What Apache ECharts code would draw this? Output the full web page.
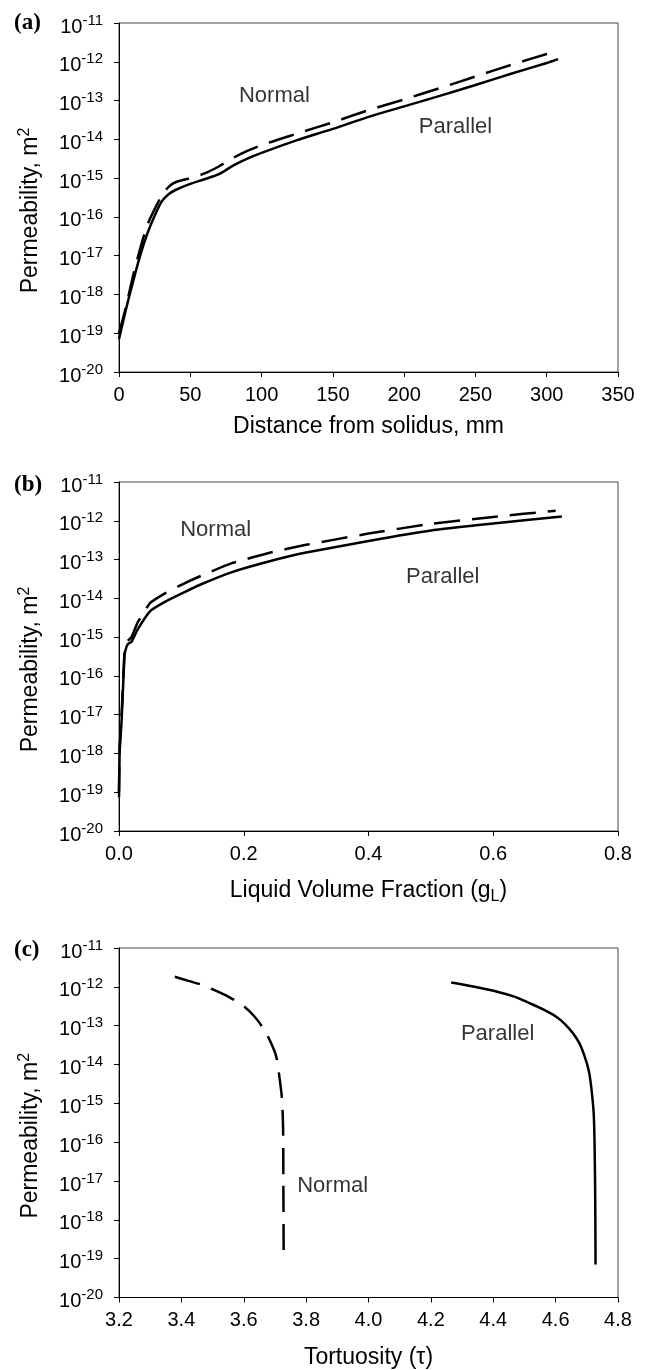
<!DOCTYPE html>
<html>
<head>
<meta charset="utf-8">
<script src="https://cdn.jsdelivr.net/npm/echarts@6/dist/echarts.min.js"></script>
<style>
html,body{margin:0;padding:0;background:#fff;}
#chart{width:648px;height:1370px;}
</style>
</head>
<body>
<div id="chart"></div>
<script>
// (a) permeability vs distance from solidus (mm), log10 of k in m2
var distA = [0, 5, 10, 15, 20, 25, 30, 35, 40, 50, 60, 70, 80, 90, 100, 125, 150, 175, 200, 225, 250, 275, 300, 308];
var logKParallelA = [-19.15, -18.37, -17.65, -16.98, -16.42, -15.97, -15.6, -15.41, -15.3, -15.15, -15.03, -14.9, -14.68, -14.5, -14.35, -14.02, -13.73, -13.42, -13.15, -12.88, -12.6, -12.31, -12.03, -11.93];
var logKNormalA = [-19.0, -18.3, -17.5, -16.8, -16.2, -15.8, -15.45, -15.22, -15.1, -15.0, -14.88, -14.7, -14.48, -14.3, -14.15, -13.85, -13.56, -13.25, -12.97, -12.68, -12.38, -12.08, -11.8, -11.72];

// (b) permeability vs liquid volume fraction
var gLParallel = [0, 0.001, 0.004, 0.0065, 0.009, 0.012, 0.015, 0.02, 0.03, 0.05, 0.075, 0.1, 0.13, 0.18, 0.24, 0.3, 0.4, 0.5, 0.6, 0.71];
var logKParallelB = [-19.13, -17.97, -17.2, -16.3, -15.45, -15.25, -15.17, -15.12, -14.8, -14.33, -14.08, -13.88, -13.65, -13.33, -13.05, -12.82, -12.52, -12.25, -12.07, -11.89];
var gLNormal = [0, 0.001, 0.004, 0.0065, 0.009, 0.012, 0.015, 0.02, 0.03, 0.05, 0.075, 0.1, 0.13, 0.18, 0.24, 0.3, 0.4, 0.5, 0.6, 0.70];
var logKNormalB = [-19.0, -17.85, -17.05, -16.15, -15.35, -15.15, -15.08, -15.0, -14.62, -14.12, -13.86, -13.65, -13.43, -13.1, -12.83, -12.62, -12.33, -12.08, -11.9, -11.74];

// (c) permeability vs tortuosity
var tauNormal = [3.379, 3.42, 3.47, 3.51, 3.55, 3.6, 3.635, 3.662, 3.685, 3.704, 3.714, 3.722, 3.726, 3.727, 3.728];
var logKNormalC = [-11.74, -11.84, -11.96, -12.1, -12.25, -12.5, -12.77, -13.06, -13.4, -13.79, -14.3, -14.84, -15.6, -17.0, -18.95];
var tauParallel = [4.265, 4.34, 4.41, 4.47, 4.516, 4.56, 4.602, 4.63, 4.655, 4.676, 4.693, 4.706, 4.714, 4.722, 4.725, 4.727, 4.728];
var logKParallelC = [-11.89, -12.0, -12.12, -12.26, -12.42, -12.58, -12.77, -12.96, -13.19, -13.45, -13.79, -14.15, -14.57, -15.25, -16.11, -17.5, -19.15];

var panelNames = ['(a)', '(b)', '(c)'];
var xNames = ['{n|Distance from solidus, mm}', '{n|Liquid Volume Fraction (g}{sub|L}{n|)}', '{n|Tortuosity (τ)}'];

var fontFam = '"Liberation Sans", Arial, Helvetica, sans-serif';
var ink = '#000';

function pairs(xs, logs) {
    var out = [];
    for (var i = 0; i < xs.length; i++) {
        out.push([xs[i], Math.pow(10, logs[i])]);
    }
    return out;
}

function powLabel(v) {
    var e = Math.round(Math.log(v) / Math.LN10);
    return '{b|10}{s|' + e + '}';
}

var nameRich = {
    n: {fontSize: 23, fontFamily: fontFam, color: ink, lineHeight: 28},
    s: {fontSize: 16, fontFamily: fontFam, color: ink, lineHeight: 16, verticalAlign: 'top'},
    sub: {fontSize: 16, fontFamily: fontFam, color: ink, lineHeight: 12, verticalAlign: 'bottom'}
};

function xAxisOf(idx, min, max, step, digits, gap) {
    return {
        type: 'value', gridIndex: idx, min: min, max: max, interval: step,
        name: xNames[idx], nameLocation: 'middle', nameGap: gap,
        nameTextStyle: {rich: nameRich},
        axisLine: {show: true, onZero: false, lineStyle: {color: ink, width: 1}},
        axisTick: {show: true, length: 5, lineStyle: {color: ink}},
        axisLabel: {margin: 13, fontSize: 20, color: ink, fontFamily: fontFam,
            formatter: function (v) { return v.toFixed(digits); }},
        splitLine: {show: false}
    };
}

function yAxisOf(idx) {
    return {
        type: 'log', logBase: 10, gridIndex: idx, min: 1e-20, max: 1e-11,
        name: '{n|Permeability, m}{s|2}', nameLocation: 'middle', nameRotate: 90, nameGap: 74,
        nameTextStyle: {padding: [0, 26, 0, 0], rich: nameRich},
        axisLine: {show: true, lineStyle: {color: ink, width: 1}},
        axisTick: {show: true, length: 5, lineStyle: {color: ink}},
        minorTick: {show: false},
        axisLabel: {margin: 16, padding: [8, 0, 0, 0], formatter: powLabel,
            rich: {
                b: {fontSize: 20, fontFamily: fontFam, color: ink, lineHeight: 28},
                s: {fontSize: 15, fontFamily: fontFam, color: ink, lineHeight: 15, verticalAlign: 'top'}
            }},
        splitLine: {show: false}
    };
}

function curve(idx, data, dashed, smooth) {
    return {
        type: 'line', xAxisIndex: idx, yAxisIndex: idx, data: data,
        symbol: 'none', showSymbol: false, smooth: smooth, silent: true,
        lineStyle: {color: ink, width: 2.5, type: dashed ? [26, 12] : 'solid', cap: 'butt'},
        z: 3
    };
}

// text notes placed in data coordinates
function notes(idx, items) {
    return {
        type: 'scatter', xAxisIndex: idx, yAxisIndex: idx, silent: true,
        symbolSize: 1, itemStyle: {color: 'rgba(0,0,0,0)'},
        data: items.map(function (it) { return {value: [it[0], it[1]], name: it[2]}; }),
        label: {show: true, position: 'inside', formatter: '{b}', fontSize: 22, color: ink, fontFamily: fontFam},
        z: 4
    };
}

var gridBase = {left: 119, right: 30, show: true, borderColor: '#444', borderWidth: 1, backgroundColor: 'transparent'};
var serifFont = '"Liberation Serif", "Times New Roman", serif';

var option = {
    backgroundColor: '#fff',
    animation: false,
    grid: [
        Object.assign({top: 23, height: 349}, gridBase),
        Object.assign({top: 482, height: 349}, gridBase),
        Object.assign({top: 948, height: 350}, gridBase)
    ],
    xAxis: [
        xAxisOf(0, 0, 350, 50, 0, 41),
        xAxisOf(1, 0, 0.8, 0.2, 1, 46),
        xAxisOf(2, 3.2, 4.8, 0.2, 1, 46)
    ],
    yAxis: [yAxisOf(0), yAxisOf(1), yAxisOf(2)],
    graphic: [
        {type: 'text', left: 14, top: 12, style: {text: panelNames[0], fontSize: 23, fontWeight: 'bold', fontFamily: serifFont, fill: ink}},
        {type: 'text', left: 14, top: 474, style: {text: panelNames[1], fontSize: 23, fontWeight: 'bold', fontFamily: serifFont, fill: ink}},
        {type: 'text', left: 14, top: 939, style: {text: panelNames[2], fontSize: 23, fontWeight: 'bold', fontFamily: serifFont, fill: ink}}
    ],
    series: [
        curve(0, pairs(distA, logKNormalA), true, 0.3),
        curve(0, pairs(distA, logKParallelA), false, 0.3),
        curve(1, pairs(gLNormal, logKNormalB), true, 0.15),
        curve(1, pairs(gLParallel, logKParallelB), false, 0.15),
        curve(2, pairs(tauNormal, logKNormalC), true, 0.3),
        curve(2, pairs(tauParallel, logKParallelC), false, 0.3),
        notes(0, [[109, 1.3e-13, 'Normal'], [236, 2.1e-14, 'Parallel']]),
        notes(1, [[0.155, 5.9e-13, 'Normal'], [0.519, 3.6e-14, 'Parallel']]),
        notes(2, [[3.885, 7.6e-18, 'Normal'], [4.414, 6.1e-14, 'Parallel']])
    ]
};

var myChart = echarts.init(document.getElementById('chart'));
myChart.setOption(option, true);
</script>
</body>
</html>
